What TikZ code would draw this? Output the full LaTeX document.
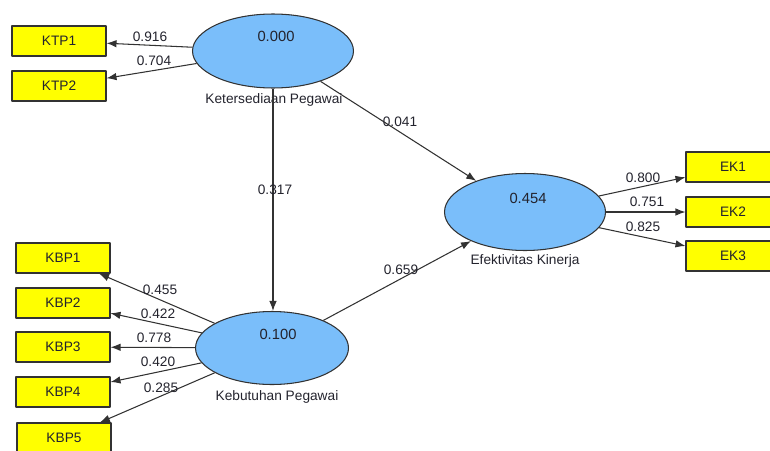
\documentclass[tikz,border=0pt]{standalone}
\usepackage{fontspec}
\setmainfont{Liberation Sans}
\usetikzlibrary{arrows.meta, shapes.geometric}

\definecolor{lvblue}{RGB}{122,190,250}
\definecolor{mvyellow}{RGB}{255,255,0}
\definecolor{edgegray}{RGB}{50,50,50}
\definecolor{txtgray}{RGB}{35,35,45}

\begin{document}
\begin{tikzpicture}[
    x=0.02cm, y=-0.02cm,
    >={Latex[length=2mm,width=1.5mm]},
    line join=round,
    font=\fontsize{7.8}{9}\selectfont,
    mv/.style={draw=edgegray, fill=mvyellow, line width=0.6pt,
               minimum width=1.88cm, minimum height=0.6cm, inner sep=0pt, text=txtgray},
    lv/.style={ellipse, draw=edgegray, fill=lvblue, line width=0.6pt, inner sep=0pt},
    val/.style={text=txtgray, font=\fontsize{8.4}{10}\selectfont},
    lvname/.style={text=txtgray},
    wt/.style={text=txtgray, inner sep=0pt},
    path/.style={->, draw=edgegray, line width=0.6pt}
]

  % ==================== РАМКА ====================
  \useasboundingbox (0,0) rectangle (770,450);
  \clip (0,0) rectangle (770,450);

  % ==================== 1. КОНСТРУКТИ ====================
  \node[lv, minimum width=3.22cm, minimum height=1.48cm] (kp) at (273,51) {};
  \node[lv, minimum width=3.06cm, minimum height=1.46cm] (kb) at (272,348) {};
  \node[lv, minimum width=3.22cm, minimum height=1.54cm] (ek) at (525,212) {};

  \node[val] (kpv) at (276,36) {0.000};
  \node[val] (kbv) at (278,334) {0.100};
  \node[val] (ekv) at (528,198) {0.454};

  \node[lvname] (kpn) at (274,100) {Ketersediaan Pegawai};
  \node[lvname] (kbn) at (277,397) {Kebutuhan Pegawai};
  \node[lvname] (ekn) at (525,261) {Efektivitas Kinerja};

  % ==================== 2. ІНДИКАТОРИ ====================
  \node[mv] (ktp1) at (59,41) {KTP1};
  \node[mv] (ktp2) at (59,86) {KTP2};

  \node[mv] (kbp1) at (63,258) {KBP1};
  \node[mv] (kbp2) at (63,303) {KBP2};
  \node[mv] (kbp3) at (63,347) {KBP3};
  \node[mv] (kbp4) at (63,392) {KBP4};
  \node[mv] (kbp5) at (64,438) {KBP5};

  \node[mv] (ek1) at (733,167) {EK1};
  \node[mv] (ek2) at (733,212) {EK2};
  \node[mv] (ek3) at (733,256) {EK3};

  % ==================== 3. ЗВ'ЯЗКИ ====================
  \draw[path] (kp) -- (ktp1);
  \draw[path] (kp) -- (ktp2);

  \foreach \i in {1,...,5}{
      \draw[path] (kb) -- (kbp\i);
  }

  \foreach \i in {1,2,3}{
      \draw[path] (ek) -- (ek\i);
  }

  \draw[path] (kp.south -| kp) -- (kb.north -| kp);
  \draw[path] (kp) -- (ek);
  \draw[path] (kb) -- (ek);

  % ==================== 4. ВАГИ ====================
  \node[wt] (w916) at (150,37) {0.916};
  \node[wt] (w704) at (154,61) {0.704};

  \node[wt] (w455) at (160,290) {0.455};
  \node[wt] (w422) at (158,314) {0.422};
  \node[wt] (w778) at (154,338) {0.778};
  \node[wt] (w420) at (158,362) {0.420};
  \node[wt] (w285) at (161,388) {0.285};

  \node[wt] (w800) at (643,178) {0.800};
  \node[wt] (w751) at (647,202) {0.751};
  \node[wt] (w825) at (643,227) {0.825};

  \node[wt] (w317) at (275,190) {0.317};
  \node[wt] (w041) at (400,122) {0.041};
  \node[wt] (w659) at (401,270) {0.659};

\end{tikzpicture}
\end{document}
